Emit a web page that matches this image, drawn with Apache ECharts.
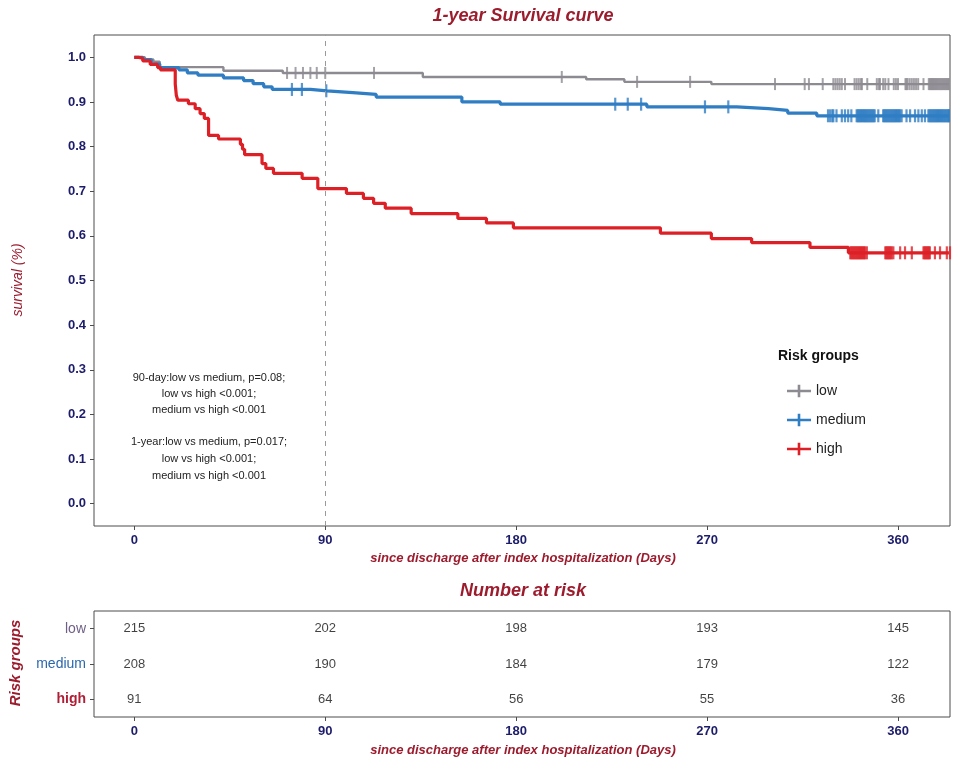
<!DOCTYPE html>
<html>
<head>
<meta charset="utf-8">
<script src="https://cdn.jsdelivr.net/npm/echarts@6/dist/echarts.min.js"></script>
<style>
html,body{margin:0;padding:0;background:#fff;}
#chart{width:960px;height:769px;}
</style>
</head>
<body>
<div id="chart"></div>
<script>
// ---------- data ----------
const groupNames = ['low', 'medium', 'high'];
const xTicks = [0, 90, 180, 270, 360];
const yTicks = [0, 0.1, 0.2, 0.3, 0.4, 0.5, 0.6, 0.7, 0.8, 0.9, 1.0];

const lowTime = [0, 5, 9, 12, 42, 70, 136, 213, 231, 272, 384];
const lowSurv = [1.0, 0.995, 0.99, 0.978, 0.970, 0.965, 0.956, 0.951, 0.945, 0.940, 0.940];

const medTime = [0, 4, 8, 12, 21, 25, 30, 42, 51.5, 56, 61, 65, 83, 90.8, 103, 114, 154.4, 172.5, 241.6, 284, 299, 308, 321.7, 384];
const medSurv = [1.0, 0.995, 0.985, 0.977, 0.972, 0.965, 0.960, 0.954, 0.948, 0.941, 0.934, 0.928, 0.925, 0.921, 0.917, 0.911, 0.900, 0.895, 0.889, 0.885, 0.881, 0.875, 0.869, 0.869];

const highTime = [0, 2, 4, 7.5, 11, 12.3, 19.3, 19.8, 20.5, 25.5, 28.7, 31, 33, 35, 39.7, 50, 51, 52, 60.2, 62, 65.6, 79.1, 86.5, 100, 108, 112.8, 118.3, 130.5, 152.5, 166, 178.7, 248, 272, 291, 318.5, 336.6, 384];
const highSurv = [1.0, 0.998, 0.992, 0.984, 0.977, 0.972, 0.94, 0.915, 0.904, 0.896, 0.885, 0.874, 0.863, 0.825, 0.817, 0.805, 0.794, 0.782, 0.762, 0.751, 0.740, 0.729, 0.706, 0.695, 0.684, 0.673, 0.662, 0.650, 0.639, 0.629, 0.618, 0.606, 0.594, 0.585, 0.574, 0.562, 0.562];

const lowCensor = [72, 76, 79.5, 83, 86, 90, 113, 201.5, 237, 262, 302, 316, 318, 324.5, 329.5, 330.5, 331.5, 332.5, 333.5, 335, 339.5, 340.5, 341.5, 342.5, 343, 345.5, 350, 351, 351.5, 353, 354, 355.5, 358, 359, 360, 363.5, 364, 364.5, 365.5, 366.5, 367.5, 368.5, 369.5, 372, 374.5, 375, 375.5, 376, 376.5, 377, 377.5, 378, 378.5, 379, 379.5, 380, 380.5, 381, 381.5, 382, 382.5, 383, 383.5, 384];
const medCensor = [74.3, 79, 90.5, 226.7, 232.6, 238.9, 269, 280, 327, 328, 329, 329.5, 331, 333.5, 335, 336.5, 338, 340.5, 341, 341.5, 342, 342.5, 343, 343.5, 344, 344.5, 345, 345.5, 346, 346.5, 347, 347.5, 348, 348.5, 349, 350.7, 353, 353.5, 354, 354.5, 355, 355.5, 356, 356.5, 357, 357.5, 358, 358.5, 359, 359.5, 360, 360.5, 361, 361.7, 364, 365.7, 368, 369.6, 371.2, 372.7, 374.3, 374.8, 375.3, 375.8, 376.3, 376.8, 377.3, 377.8, 378.3, 378.8, 379.3, 379.8, 380.3, 380.8, 381.3, 381.8, 382.3, 382.8, 383.3, 383.8, 384];
const highCensor = [337.5, 338, 338.5, 339, 339.5, 340, 340.5, 341, 341.5, 342, 342.5, 343, 343.5, 344, 344.5, 345.3, 354, 354.5, 355, 355.5, 356, 356.5, 357, 357.8, 361, 363.3, 366.5, 372, 372.5, 373, 373.5, 374, 374.5, 375, 377.4, 379.8, 383, 384.5];

const riskTimes = [0, 90, 180, 270, 360];
const riskLow = [215, 202, 198, 193, 145];
const riskMedium = [208, 190, 184, 179, 122];
const riskHigh = [91, 64, 56, 55, 36];

// ---------- style ----------
const C_LOW = '#8d8a91', C_MED = '#2f7dc3', C_HIGH = '#dd1f26';
const NAVY = '#1c1c6b', DRED = '#9c1c2e';
const FONT = 'Liberation Sans, Arial, sans-serif';
const XMIN = -19, XMAX = 384.5;

function pairs(t, s) { return t.map((v, i) => [v, s[i]]); }
function survAt(t, times, surv) {
  let v = surv[0];
  for (let i = 0; i < times.length; i++) { if (times[i] <= t) v = surv[i]; else break; }
  return v;
}
function censorPts(c, times, surv) { return c.map(t => [t, survAt(t, times, surv)]); }

const plusIcon = 'path://M0,5h24v2.6h-24z M10.7,0h2.6v12.6h-2.6z';

const chart = echarts.init(document.getElementById('chart'), null, {renderer: 'canvas'});

const riskData = [];
riskTimes.forEach((t, i) => {
  riskData.push([t, 'low', riskLow[i]]);
  riskData.push([t, 'medium', riskMedium[i]]);
  riskData.push([t, 'high', riskHigh[i]]);
});

const tickStyle = {show: true, length: 4, lineStyle: {color: '#4d4d4d'}};
const noLine = {show: false, onZero: false};

const option = {
  backgroundColor: '#fff',
  animation: false,
  textStyle: {fontFamily: FONT},
  grid: [
    {left: 94, right: 10, top: 35, height: 491, show: true, borderColor: '#4d4d4d', borderWidth: 1, containLabel: false},
    {left: 94, right: 10, top: 611, height: 106, show: true, borderColor: '#4d4d4d', borderWidth: 1, containLabel: false}
  ],
  xAxis: [
    {type: 'value', gridIndex: 0, min: XMIN, max: XMAX, position: 'bottom',
     axisLine: noLine, splitLine: {show: false},
     axisTick: Object.assign({customValues: xTicks}, tickStyle),
     axisLabel: {customValues: xTicks, color: NAVY, fontWeight: 'bold', fontSize: 13, margin: 8, fontFamily: FONT}},
    {type: 'value', gridIndex: 1, min: XMIN, max: XMAX, position: 'bottom',
     axisLine: noLine, splitLine: {show: false},
     axisTick: Object.assign({customValues: xTicks}, tickStyle),
     axisLabel: {customValues: xTicks, color: NAVY, fontWeight: 'bold', fontSize: 13, margin: 8, fontFamily: FONT}}
  ],
  yAxis: [
    {type: 'value', gridIndex: 0, min: -0.05, max: 1.05, position: 'left',
     axisLine: noLine, splitLine: {show: false},
     axisTick: Object.assign({customValues: yTicks}, tickStyle),
     axisLabel: {customValues: yTicks, formatter: v => v.toFixed(1), color: NAVY, fontWeight: 'bold', fontSize: 13, margin: 8, fontFamily: FONT}},
    {type: 'category', gridIndex: 1, data: groupNames, inverse: true, position: 'left',
     axisLine: noLine, splitLine: {show: false},
     axisTick: Object.assign({alignWithLabel: true}, tickStyle),
     axisLabel: {margin: 8, fontSize: 14, fontFamily: FONT,
       formatter: v => '{' + v + '|' + v + '}',
       rich: {
         low: {color: '#6f5f86', fontSize: 14, fontFamily: FONT},
         medium: {color: '#2b67ad', fontSize: 14, fontFamily: FONT},
         high: {color: '#b01e35', fontSize: 14, fontWeight: 'bold', fontFamily: FONT}
       }}}
  ],
  legend: {
    data: groupNames, orient: 'vertical', left: 782, top: 379,
    itemWidth: 24, itemHeight: 13, itemGap: 15, icon: plusIcon,
    textStyle: {fontSize: 14, color: '#222', fontFamily: FONT}
  },
  series: [
    {name: 'low', type: 'line', step: 'end', xAxisIndex: 0, yAxisIndex: 0, symbol: 'none',
     data: pairs(lowTime, lowSurv), lineStyle: {color: C_LOW, width: 2.4}, itemStyle: {color: C_LOW},
     markLine: {silent: true, symbol: 'none', label: {show: false},
       lineStyle: {type: [5, 5], color: '#9a9a9a', width: 1}, data: [{xAxis: 90}]}},
    {name: 'medium', type: 'line', step: 'end', xAxisIndex: 0, yAxisIndex: 0, symbol: 'none',
     data: pairs(medTime, medSurv), lineStyle: {color: C_MED, width: 3.2}, itemStyle: {color: C_MED}},
    {name: 'high', type: 'line', step: 'end', xAxisIndex: 0, yAxisIndex: 0, symbol: 'none',
     data: pairs(highTime, highSurv), lineStyle: {color: C_HIGH, width: 3.2}, itemStyle: {color: C_HIGH}},
    {name: 'low censored', type: 'scatter', xAxisIndex: 0, yAxisIndex: 0, symbol: 'rect', symbolSize: [2, 12],
     data: censorPts(lowCensor, lowTime, lowSurv), itemStyle: {color: C_LOW}},
    {name: 'medium censored', type: 'scatter', xAxisIndex: 0, yAxisIndex: 0, symbol: 'rect', symbolSize: [2.2, 13],
     data: censorPts(medCensor, medTime, medSurv), itemStyle: {color: C_MED}},
    {name: 'high censored', type: 'scatter', xAxisIndex: 0, yAxisIndex: 0, symbol: 'rect', symbolSize: [2.2, 13],
     data: censorPts(highCensor, highTime, highSurv), itemStyle: {color: C_HIGH}},
    {name: 'number at risk', type: 'scatter', xAxisIndex: 1, yAxisIndex: 1, symbolSize: 1,
     itemStyle: {color: 'rgba(0,0,0,0)'}, data: riskData,
     label: {show: true, position: 'inside', formatter: p => p.value[2], color: '#111', fontSize: 13, fontFamily: FONT}}
  ],
  graphic: [
    {type: 'text', x: 523, y: 16, style: {text: '1-year Survival curve', textAlign: 'center', textVerticalAlign: 'middle',
      font: 'italic bold 18px ' + FONT, fill: DRED}},
    {type: 'text', x: 18, y: 280, rotation: Math.PI / 2, style: {text: 'survival (%)', textAlign: 'center', textVerticalAlign: 'middle',
      font: 'italic 14px ' + FONT, fill: DRED}},
    {type: 'text', x: 523, y: 558, style: {text: 'since discharge after index hospitalization (Days)', textAlign: 'center', textVerticalAlign: 'middle',
      font: 'italic bold 13px ' + FONT, fill: DRED}},
    {type: 'text', x: 523, y: 591, style: {text: 'Number at risk', textAlign: 'center', textVerticalAlign: 'middle',
      font: 'italic bold 18px ' + FONT, fill: DRED}},
    {type: 'text', x: 523, y: 750, style: {text: 'since discharge after index hospitalization (Days)', textAlign: 'center', textVerticalAlign: 'middle',
      font: 'italic bold 13px ' + FONT, fill: DRED}},
    {type: 'text', x: 16, y: 663, rotation: Math.PI / 2, style: {text: 'Risk groups', textAlign: 'center', textVerticalAlign: 'middle',
      font: 'italic bold 15px ' + FONT, fill: DRED}},
    {type: 'text', x: 778, y: 356, style: {text: 'Risk groups', textAlign: 'left', textVerticalAlign: 'middle',
      font: 'bold 14px ' + FONT, fill: '#111'}},
    {type: 'text', x: 209, y: 370, style: {text: '90-day:low vs medium, p=0.08;\nlow vs high <0.001;\nmedium vs high <0.001', textAlign: 'center', textVerticalAlign: 'top',
      font: '11px ' + FONT, fill: '#222', lineHeight: 16}},
    {type: 'text', x: 209, y: 433, style: {text: '1-year:low vs medium, p=0.017;\nlow vs high <0.001;\nmedium vs high <0.001', textAlign: 'center', textVerticalAlign: 'top',
      font: '11px ' + FONT, fill: '#222', lineHeight: 17}}
  ]
};
chart.setOption(option);
</script>
</body>
</html>
